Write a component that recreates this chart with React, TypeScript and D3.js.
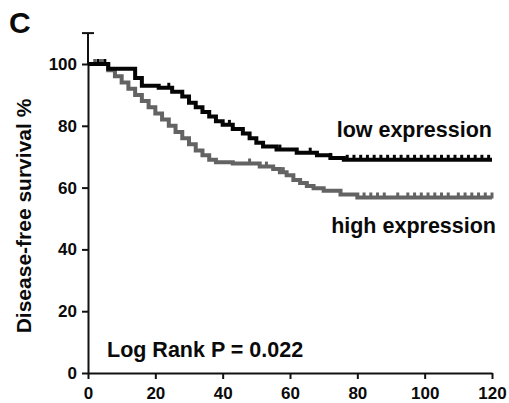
import React, { useEffect, useRef } from 'react';
import * as d3 from 'd3';

// Kaplan-Meier step data (months, survival %)
const lowTimes = [0, 6, 14, 16, 21, 25, 28, 30, 32, 34, 36, 38, 40, 43, 46, 48, 50, 52, 56, 62, 68, 72, 76];
const lowSurv = [100, 98.5, 95.5, 93, 92.3, 91, 89.5, 87.5, 86, 84.5, 83, 81.5, 80.3, 79, 77.5, 76, 74.5, 73.3, 72.3, 71.3, 70.5, 69.6, 69];
const lowCensor = [3, 5, 24, 42, 57, 66, 72, 77, 79, 81, 83, 85, 87, 89, 91, 93, 95, 97, 99, 101, 103, 105, 107, 109, 111, 113, 115, 117, 119];

const highTimes = [0, 6, 8, 10, 12, 14, 16, 18, 20, 22, 24, 26, 28, 30, 32, 34, 36, 38, 43, 51, 55, 57, 59, 61, 63, 65, 67, 70, 75, 80];
const highSurv = [100, 98, 96, 94, 92, 90, 88, 86, 84, 82, 80, 78, 76, 74, 72, 70.5, 69, 68.2, 67.8, 66.8, 66, 65, 64, 62.5, 61.5, 60.5, 59.8, 59, 57.8, 56.8];
const highCensor = [2, 4, 48, 53, 58, 82, 84, 86, 88, 92, 95, 97, 99, 101, 103, 105, 107, 110, 112, 114, 116, 118, 120];

const xTicks = [0, 20, 40, 60, 80, 100, 120];
const yTicks = [0, 20, 40, 60, 80, 100];

const W = 509;
const H = 403;
const FONT = "'Liberation Sans', Arial, Helvetica, sans-serif";

function App() {
  const svgRef = useRef(null);

  useEffect(() => {
    const svg = d3.select(svgRef.current);
    svg.selectAll('*').remove();

    const x = d3.scaleLinear().domain([0, 120]).range([88, 492]);
    const y = d3.scaleLinear().domain([0, 100]).range([373, 64]);

    // axes
    const xAxis = d3.axisBottom(x).tickValues(xTicks).tickSize(6).tickSizeOuter(0);
    const gx = svg.append('g').attr('transform', 'translate(0,373)').call(xAxis);
    const yAxis = d3.axisLeft(y).tickValues(yTicks).tickSize(6).tickSizeOuter(0);
    const gy = svg.append('g').attr('transform', 'translate(88,0)').call(yAxis);

    [gx, gy].forEach(g => {
      g.select('.domain').attr('stroke', '#111').attr('stroke-width', 2);
      g.selectAll('.tick line').attr('stroke', '#111').attr('stroke-width', 2);
      g.selectAll('.tick text')
        .attr('fill', '#0a0a0a')
        .style('font-family', FONT)
        .style('font-size', '17px')
        .style('font-weight', 'bold');
    });
    gx.selectAll('.tick text').attr('dy', '1.0em');
    gy.selectAll('.tick text').attr('x', -11);

    // extend y axis to 110 with cap
    gy.append('line').attr('x1', 0).attr('x2', 0).attr('y1', y(100)).attr('y2', y(110))
      .attr('stroke', '#111').attr('stroke-width', 2);
    gy.append('line').attr('x1', -6).attr('x2', 6).attr('y1', y(110)).attr('y2', y(110))
      .attr('stroke', '#111').attr('stroke-width', 2);

    const series = [
      { times: lowTimes, surv: lowSurv, censor: lowCensor, color: '#050505' },
      { times: highTimes, surv: highSurv, censor: highCensor, color: '#636363' },
    ];

    const line = d3.line<[number, number]>()
      .x(d => x(d[0]))
      .y(d => y(d[1]))
      .curve(d3.curveStepAfter);

    const bis = d3.bisector((d: number) => d).right;

    series.slice().reverse().forEach(s => {
      const pts: [number, number][] = s.times.map((t, i) => [t, s.surv[i]]);
      pts.push([120, s.surv[s.surv.length - 1]]);
      svg.append('path')
        .attr('d', line(pts))
        .attr('fill', 'none')
        .attr('stroke', s.color)
        .attr('stroke-width', 4);

      svg.append('g').selectAll('line')
        .data(s.censor)
        .join('line')
        .attr('x1', d => x(d))
        .attr('x2', d => x(d))
        .attr('y1', d => y(s.surv[Math.max(0, bis(s.times, d) - 1)]) + 1)
        .attr('y2', d => y(s.surv[Math.max(0, bis(s.times, d) - 1)]) - 5)
        .attr('stroke', s.color)
        .attr('stroke-width', 3);
    });

    const txt = (xx: number, yy: number, str: string, size: number, anchor = 'start') =>
      svg.append('text')
        .attr('x', xx).attr('y', yy)
        .attr('text-anchor', anchor)
        .style('font-family', FONT)
        .style('font-size', size + 'px')
        .style('font-weight', 'bold')
        .attr('fill', '#0a0a0a')
        .text(str);

    txt(9, 33, 'C', 30);
    txt(492, 137, 'low expression', 21.5, 'end');
    txt(496, 233, 'high expression', 21.5, 'end');
    txt(107, 357, 'Log Rank P = 0.022', 21.5);
    txt(0, 0, 'Disease-free survival %', 21, 'middle')
      .attr('transform', 'translate(31,216) rotate(-90)');
  }, []);

  return (
    <svg ref={svgRef} width={W} height={H}
      style={{ position: 'absolute', left: 0, top: 0, background: '#fff' }} />
  );
}

export default App;
